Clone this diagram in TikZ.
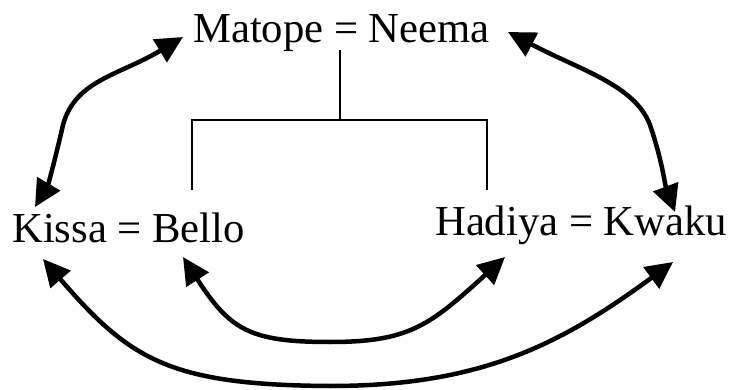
\documentclass[tikz,border=0pt]{standalone}
\usepackage{fontspec}
\setmainfont{Liberation Serif}
\usetikzlibrary{arrows.meta}
\begin{document}
\begin{tikzpicture}[x=1pt,y=-1pt,
  lbl/.style={inner sep=0pt,font=\fontsize{42.7}{50}\selectfont},
  tree/.style={line width=2.8pt},
  rel/.style={line width=4.5pt,{Triangle[length=27pt,width=26pt]}-{Triangle[length=27pt,width=26pt]}}]
\useasboundingbox (0,0) rectangle (731,390);
\node[lbl,anchor=base] (mn) at (341.5,43) {Matope = Neema};
\node[lbl,anchor=base west] (kb) at (12,243) {Kissa = Bello};
\node[lbl,anchor=base west] (hk) at (435,236) {Hadiya = Kwaku};
\coordinate (top) at (340,50);
\coordinate (mid) at (340,120);
\coordinate (lt) at (192,120);
\coordinate (rt) at (487,120);
\coordinate (lb) at (192,190);
\coordinate (rb) at (487,190);
\draw[tree] (top) -- (mid);
\draw[tree] (lb) -- (lt) -- (rt) -- (rb);
\coordinate (a1) at (183,37);
\coordinate (a2) at (35,207);
\coordinate (b1) at (508,32);
\coordinate (b2) at (675,212);
\coordinate (c1) at (183,257);
\coordinate (c2) at (505,257);
\coordinate (d1) at (43,259);
\coordinate (d2) at (673,262);
\draw[rel] (a1) .. controls (120,75) and (75,80) .. (63,125) .. controls (55,160) and (48,185) .. (a2);
\draw[rel] (b1) .. controls (580,70) and (635,85) .. (650,125) .. controls (662,160) and (665,185) .. (b2);
\draw[rel] (c1) .. controls (230,330) and (250,342) .. (330,342) .. controls (410,342) and (430,325) .. (c2);
\draw[rel] (d1) .. controls (130,360) and (170,385) .. (330,386) .. controls (480,386) and (560,345) .. (d2);
\end{tikzpicture}
\end{document}
